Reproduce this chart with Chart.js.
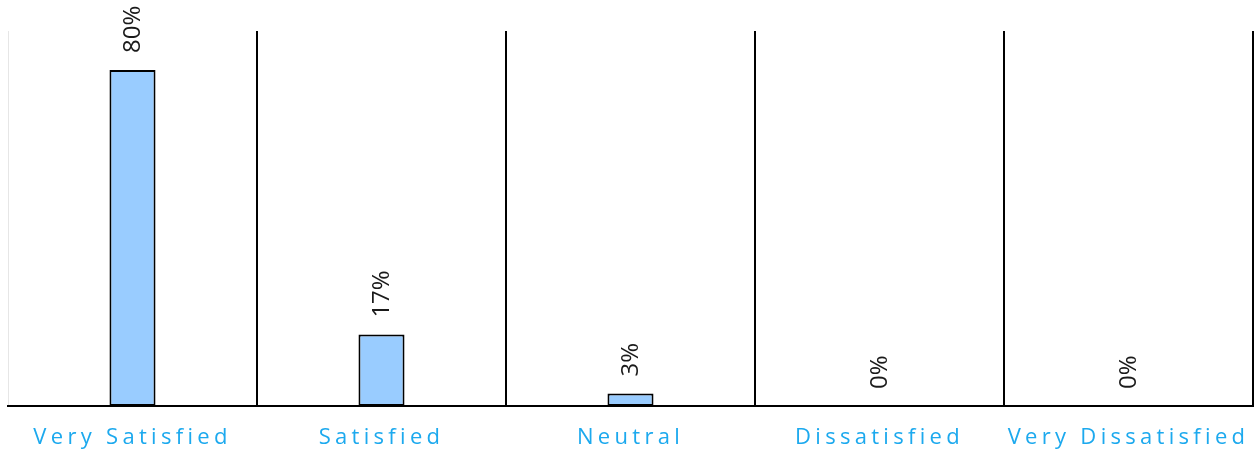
<!DOCTYPE html>
<html>
<head>
<meta charset="utf-8">
<script src="https://cdn.jsdelivr.net/npm/chart.js@4/dist/chart.umd.min.js"></script>
<style>
  html, body { margin: 0; padding: 0; background: #ffffff; }
  #wrap { width: 1254px; height: 456px; position: relative; }
</style>
</head>
<body>
<div id="wrap"><canvas id="chart"></canvas></div>
<script>
// Survey responses: share of answers per satisfaction level (percent)
const categories = ['Very Satisfied', 'Satisfied', 'Neutral', 'Dissatisfied', 'Very Dissatisfied'];
const shares = [80, 17, 3, 0, 0];
const valueSuffix = '%';

// Rotated value labels above each bar, positioned through the y scale
const valueLabels = {
  id: 'valueLabels',
  afterDatasetsDraw(chart) {
    const ctx = chart.ctx;
    const yScale = chart.scales.y;
    const meta = chart.getDatasetMeta(0);
    ctx.save();
    ctx.fillStyle = '#1a1a1a';
    ctx.font = '400 24px "Open Sans", Lato, sans-serif';
    ctx.textAlign = 'left';
    ctx.textBaseline = 'middle';
    meta.data.forEach((bar, i) => {
      const v = chart.data.datasets[0].data[i];
      const y = yScale.getPixelForValue(v) - 17;
      ctx.save();
      ctx.translate(bar.x + 1, y);
      ctx.rotate(-Math.PI / 2);
      ctx.fillText(v + valueSuffix, 0, 0);
      ctx.restore();
    });
    ctx.restore();
  }
};

// Spaced-out category labels on the x axis
const spacedAxisText = {
  id: 'spacedAxisText',
  beforeDraw(chart) { chart.ctx.letterSpacing = '4.3px'; },
  beforeDatasetsDraw(chart) { chart.ctx.letterSpacing = '0px'; }
};

new Chart(document.getElementById('chart'), {
  type: 'bar',
  data: {
    labels: categories,
    datasets: [{
      data: shares,
      backgroundColor: '#99ccff',
      borderColor: '#000000',
      borderWidth: 2,
      borderSkipped: false,
      categoryPercentage: 1,
      barPercentage: 0.185
    }]
  },
  options: {
    responsive: true,
    maintainAspectRatio: false,
    animation: false,
    layout: { padding: { top: 31, left: 8, right: 1, bottom: 6 } },
    plugins: {
      legend: { display: false },
      tooltip: { enabled: false }
    },
    scales: {
      x: {
        afterFit(scale) { scale.height = 44; },
        grid: {
          offset: true,
          drawTicks: false,
          color: (c) => c.index === 0 ? '#e6e6e6' : (c.index >= categories.length ? 'rgba(0,0,0,0)' : '#000000'),
          lineWidth: (c) => c.index === 0 ? 1 : 2
        },
        border: { display: true, color: '#000000', width: 2 },
        ticks: {
          color: '#1ca9ee',
          font: { family: '"Open Sans", Lato, sans-serif', size: 22 },
          padding: 19,
          autoSkip: false,
          maxRotation: 0
        }
      },
      y: {
        min: 0,
        max: 89.3,
        display: true,
        grid: { display: false, drawTicks: false },
        border: { display: false },
        ticks: { display: false }
      }
    }
  },
  plugins: [valueLabels, spacedAxisText]
});
</script>
</body>
</html>
